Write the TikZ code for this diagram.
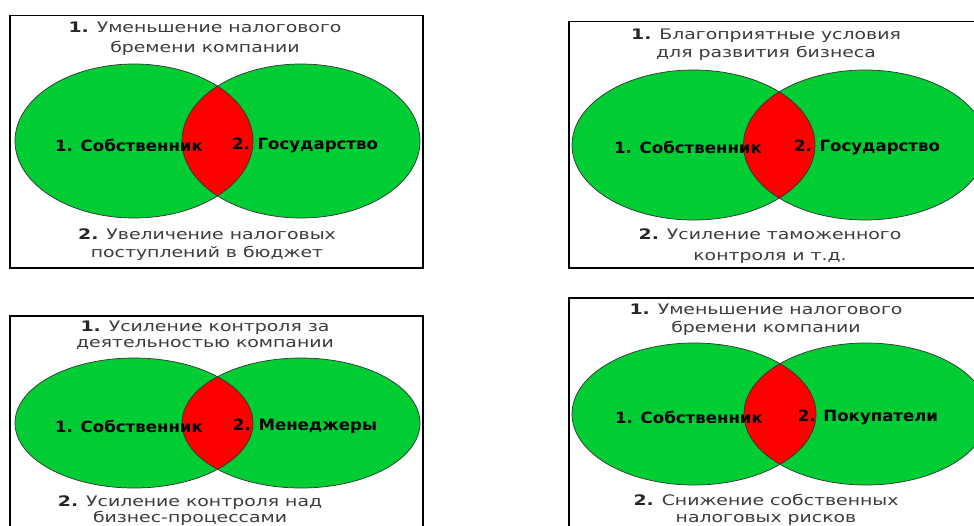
\documentclass[tikz,border=0pt]{standalone}
\usepackage{fontspec}
\setmainfont{DejaVu Sans}
\usepackage{graphicx}
\definecolor{vgreen}{RGB}{0,204,51}
\definecolor{vred}{RGB}{255,0,0}
\definecolor{tgrey}{RGB}{60,60,60}
\newcommand\stretchtxt[1]{\scalebox{1.3}[1]{#1}}
\newcommand\lbltxt[1]{\scalebox{1.07}[1]{#1}}
\newcommand\numb[1]{{\color{black!85}\textbf{#1}}}
\newcommand\vennpair[5]{%
  \fill[vgreen] (#1,#3) ellipse [x radius=#4pt, y radius=#5pt];
  \fill[vgreen] (#2,#3) ellipse [x radius=#4pt, y radius=#5pt];
  \begin{scope}
    \clip (#1,#3) ellipse [x radius=#4pt, y radius=#5pt];
    \fill[vred] (#2,#3) ellipse [x radius=#4pt, y radius=#5pt];
  \end{scope}
  \draw[outl] (#1,#3) ellipse [x radius=#4pt, y radius=#5pt];
  \draw[outl] (#2,#3) ellipse [x radius=#4pt, y radius=#5pt];
}
\tikzset{
  outl/.style={draw=black!80, line width=0.7pt},
  frame/.style={draw=black, line width=1.6pt},
  toptext/.style={font=\fontsize{14.5}{#1}\selectfont, text=tgrey, align=center, inner sep=0pt},
  toptext/.default=19,
  lbl/.style={font=\fontsize{15.5}{18}\selectfont\bfseries, text=black, inner sep=0pt},
}
\begin{document}
\begin{tikzpicture}[x=1pt, y=-1pt]
\useasboundingbox (0,0) rectangle (974,525);
\clip (0,0) rectangle (974,525);
\fill[white] (0,0) rectangle (974,525);

% Panel 1
\draw[frame] (10,15.5) rectangle (423,268);
\vennpair{134}{301}{141}{119}{77}
\node[lbl] (p1a) at (129,145) {\lbltxt{1. Собственник}};
\node[lbl] (p1b) at (305,145) {\lbltxt{2. Государство}};
\node[toptext=20] (p1t) at (205,38.5) {\stretchtxt{\numb{1.} Уменьшение налогового}\\\stretchtxt{бремени компании}};
\node[toptext=18] (p1u) at (207,244.5) {\stretchtxt{\numb{2.} Увеличение налоговых}\\\stretchtxt{поступлений в бюджет}};

% Panel 2
\draw[frame] (569,21.5) rectangle (985,268);
\vennpair{693.5}{865}{145}{121.5}{75}
\node[lbl] (p2a) at (688,147) {\lbltxt{1. Собственник}};
\node[lbl] (p2b) at (867,147) {\lbltxt{2. Государство}};
\node[toptext=18] (p2t) at (766,44.5) {\stretchtxt{\numb{1.} Благоприятные условия}\\\stretchtxt{для развития бизнеса}};
\node[toptext=21] (p2u) at (770,246) {\stretchtxt{\numb{2.} Усиление таможенного}\\\stretchtxt{контроля и т.д.}};

% Panel 3
\draw[frame] (10,316) rectangle (423,540);
\vennpair{134}{301}{423}{119}{65}
\node[lbl] (p3a) at (129,426) {\lbltxt{1. Собственник}};
\node[lbl] (p3b) at (305,426) {\lbltxt{2. Менеджеры}};
\node[toptext=16] (p3t) at (205,335.5) {\stretchtxt{\numb{1.} Усиление контроля за}\\\stretchtxt{деятельностью компании}};
\node[toptext=16] (p3u) at (190,510.5) {\stretchtxt{\numb{2.} Усиление контроля над}\\\stretchtxt{бизнес-процессами}};

% Panel 4
\draw[frame] (569,298) rectangle (985,540);
\vennpair{694}{866}{414}{122}{71}
\node[lbl] (p4a) at (689,417) {\lbltxt{1. Собственник}};
\node[lbl] (p4b) at (868,417) {\lbltxt{2. Покупатели}};
\node[toptext=18] (p4t) at (766,319.5) {\stretchtxt{\numb{1.} Уменьшение налогового}\\\stretchtxt{бремени компании}};
\node[toptext=17] (p4u) at (766,510) {\stretchtxt{\numb{2.} Снижение собственных}\\\stretchtxt{налоговых рисков}};
\end{tikzpicture}
\end{document}
